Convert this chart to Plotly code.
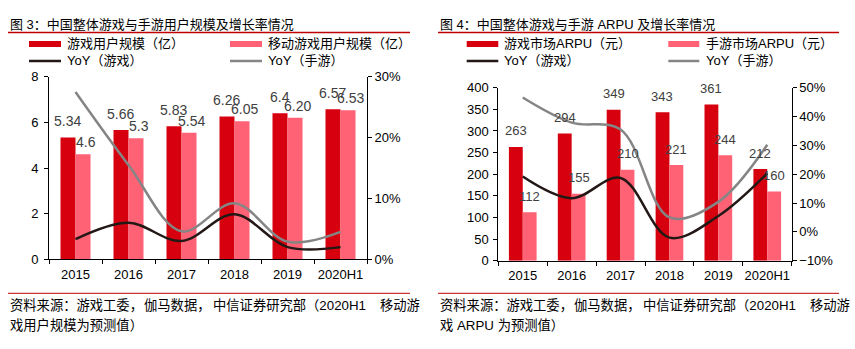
import plotly.graph_objects as go

# ---- data -------------------------------------------------------------
years = ["2015", "2016", "2017", "2018", "2019", "2020H1"]

# user base (100 million)
users_total_lbl = ["5.34", "5.66", "5.83", "6.26", "6.4", "6.57"]
users_mobile_lbl = ["4.6", "5.3", "5.54", "6.05", "6.20", "6.53"]
users_total = [float(s) for s in users_total_lbl]
users_mobile = [float(s) for s in users_mobile_lbl]
users_total_yoy = [0.033, 0.060, 0.030, 0.074, 0.020, 0.020]
users_mobile_yoy = [0.275, 0.155, 0.046, 0.092, 0.029, 0.045]

# ARPU (yuan)
arpu_total_lbl = ["263", "294", "349", "343", "361", "212"]
arpu_mobile_lbl = ["112", "155", "210", "221", "244", "160"]
arpu_total = [float(s) for s in arpu_total_lbl]
arpu_mobile = [float(s) for s in arpu_mobile_lbl]
arpu_total_yoy = [0.192, 0.117, 0.187, -0.020, 0.055, 0.203]
arpu_mobile_yoy = [0.466, 0.379, 0.355, 0.050, 0.104, 0.302]

# ---- styling ----------------------------------------------------------
W, H = 855, 349
RED = "#D7000F"
PINK = "#FF6175"
BLACK_LINE = "#231815"
GRAY_LINE = "#858585"
RULE = "#C00000"
FONT = "Liberation Sans, Arial, Noto Sans CJK SC"
LABEL_COLOR = "#404040"


def px(x):
    return x / W


def py(y):
    return 1 - y / H


fig = go.Figure()

# left chart: user base
fig.add_trace(go.Bar(x=years, y=users_total, marker_color=RED, xaxis="x", yaxis="y"))
fig.add_trace(go.Bar(x=years, y=users_mobile, marker_color=PINK, xaxis="x", yaxis="y"))
fig.add_trace(go.Scatter(x=years, y=users_total_yoy, mode="lines", xaxis="x", yaxis="y2",
                         line=dict(color=BLACK_LINE, width=2.5, shape="spline", smoothing=1.0)))
fig.add_trace(go.Scatter(x=years, y=users_mobile_yoy, mode="lines", xaxis="x", yaxis="y2",
                         line=dict(color=GRAY_LINE, width=2.5, shape="spline", smoothing=1.0)))

# right chart: ARPU
fig.add_trace(go.Bar(x=years, y=arpu_total, marker_color=RED, xaxis="x2", yaxis="y3"))
fig.add_trace(go.Bar(x=years, y=arpu_mobile, marker_color=PINK, xaxis="x2", yaxis="y3"))
fig.add_trace(go.Scatter(x=years, y=arpu_total_yoy, mode="lines", xaxis="x2", yaxis="y4",
                         line=dict(color=BLACK_LINE, width=2.5, shape="spline", smoothing=1.0)))
fig.add_trace(go.Scatter(x=years, y=arpu_mobile_yoy, mode="lines", xaxis="x2", yaxis="y4",
                         line=dict(color=GRAY_LINE, width=2.5, shape="spline", smoothing=1.0)))

axis_common = dict(showline=True, linecolor="black", linewidth=1, ticks="outside",
                   ticklen=4, tickcolor="black", showgrid=False, zeroline=False,
                   automargin=False, tickangle=0,
                   tickfont=dict(family=FONT, size=13, color="black"))

L_X = [px(49), px(367)]
L_Y = [py(259.3), py(76.7)]
R_X = [px(498.3), px(791.7)]
R_Y = [py(260.7), py(87.7)]
CAT_RANGE = [-0.5, len(years) - 0.5]

fig.update_layout(
    template="none",
    width=W, height=H,
    margin=dict(l=0, r=0, t=0, b=0, pad=0),
    paper_bgcolor="white", plot_bgcolor="white",
    showlegend=False,
    barmode="group", bargap=0.434, bargroupgap=0,
    font=dict(family=FONT, color="black"),
    xaxis=dict(domain=L_X, anchor="y", type="category", range=CAT_RANGE,
               tickson="boundaries", ticklabelstandoff=3, **axis_common),
    yaxis=dict(domain=L_Y, anchor="x", range=[0, 8], dtick=2, ticklabelstandoff=3,
               **axis_common),
    yaxis2=dict(overlaying="y", side="right", anchor="x", range=[0, 0.3], dtick=0.1,
                tickformat=".0%", **axis_common),
    xaxis2=dict(domain=R_X, anchor="y3", type="category", range=CAT_RANGE,
                tickson="boundaries", ticklabelstandoff=3, **axis_common),
    yaxis3=dict(domain=R_Y, anchor="x2", range=[0, 400], dtick=50, ticklabelstandoff=2,
                **axis_common),
    yaxis4=dict(overlaying="y3", side="right", anchor="x2", range=[-0.1, 0.5], dtick=0.1,
                tickformat=".0%", **axis_common),
)

annotations = []
shapes = []


# value labels above the bars (x given as category index)
def add_labels(labels, values, xref, yref, xshift, yshift, size):
    for i, (txt, v) in enumerate(zip(labels, values)):
        annotations.append(dict(x=i, y=v, xref=xref, yref=yref, text=txt, showarrow=False,
                                xanchor="center", yanchor="middle", xshift=xshift, yshift=yshift,
                                font=dict(family=FONT, size=size, color=LABEL_COLOR)))


add_labels(users_total_lbl, users_total, "x", "y", -8, 16, 14)
add_labels(users_mobile_lbl, users_mobile, "x", "y", 10, 12, 14)
add_labels(arpu_total_lbl, arpu_total, "x2", "y3", -7, 16, 13)
add_labels(arpu_mobile_lbl, arpu_mobile, "x2", "y3", 7, 16, 13)


def text(x, y, s, size=13, anchor="left"):
    annotations.append(dict(x=px(x), y=py(y), xref="paper", yref="paper", text=s,
                            showarrow=False, xanchor=anchor, yanchor="middle",
                            font=dict(family=FONT, size=size, color="black")))


def hline(x0, x1, y, color, width):
    shapes.append(dict(type="line", xref="paper", yref="paper", x0=px(x0), x1=px(x1),
                       y0=py(y), y1=py(y), line=dict(color=color, width=width)))


def swatch(x0, x1, y, color):
    shapes.append(dict(type="rect", xref="paper", yref="paper", x0=px(x0), x1=px(x1),
                       y0=py(y + 3), y1=py(y - 3), fillcolor=color, line=dict(width=0)))


# titles with underline
text(8, 25, "图 3：中国整体游戏与手游用户规模及增长率情况", 13)
text(438, 25, "图 4：中国整体游戏与手游 ARPU 及增长率情况", 13)
hline(8, 410, 32.5, RULE, 1.5)
hline(438, 839, 32.5, RULE, 1.5)

# legends
swatch(29, 61, 44, RED)
text(65, 44, "游戏用户规模（亿）")
swatch(230, 262, 44, PINK)
text(266, 44, "移动游戏用户规模（亿）")
hline(29, 61, 61, BLACK_LINE, 2.5)
text(65, 61, "YoY（游戏）")
hline(230, 262, 61, GRAY_LINE, 2.5)
text(266, 61, "YoY（手游）")

swatch(466.7, 498.3, 44, RED)
text(502.3, 44, "游戏市场ARPU（元）")
swatch(668.3, 699.3, 44, PINK)
text(704, 44, "手游市场ARPU（元）")
hline(466.7, 498.3, 61, BLACK_LINE, 2.5)
text(502.3, 61, "YoY（游戏）")
hline(668.3, 699.3, 61, GRAY_LINE, 2.5)
text(704, 61, "YoY（手游）")

# source notes (first line spread to the full column width)
SRC = 13.3
hline(8, 410, 293.3, RULE, 1)
hline(438, 839, 293.3, RULE, 1)
for x0 in (8.3, 438.3):
    text(x0, 305, "资料来源：游戏工委，", SRC)
    text(x0 + 133.4, 305, "伽马数据，", SRC)
    text(x0 + 202.4, 305, "中信证券研究部（2020H1", SRC)
    text(x0 + 370, 305, "移动游", SRC)
text(8.3, 325, "戏用户规模为预测值）", SRC)
text(438.3, 325, "戏 ARPU 为预测值）", SRC)

fig.update_layout(annotations=annotations, shapes=shapes)

fig.write_html("out.html")
